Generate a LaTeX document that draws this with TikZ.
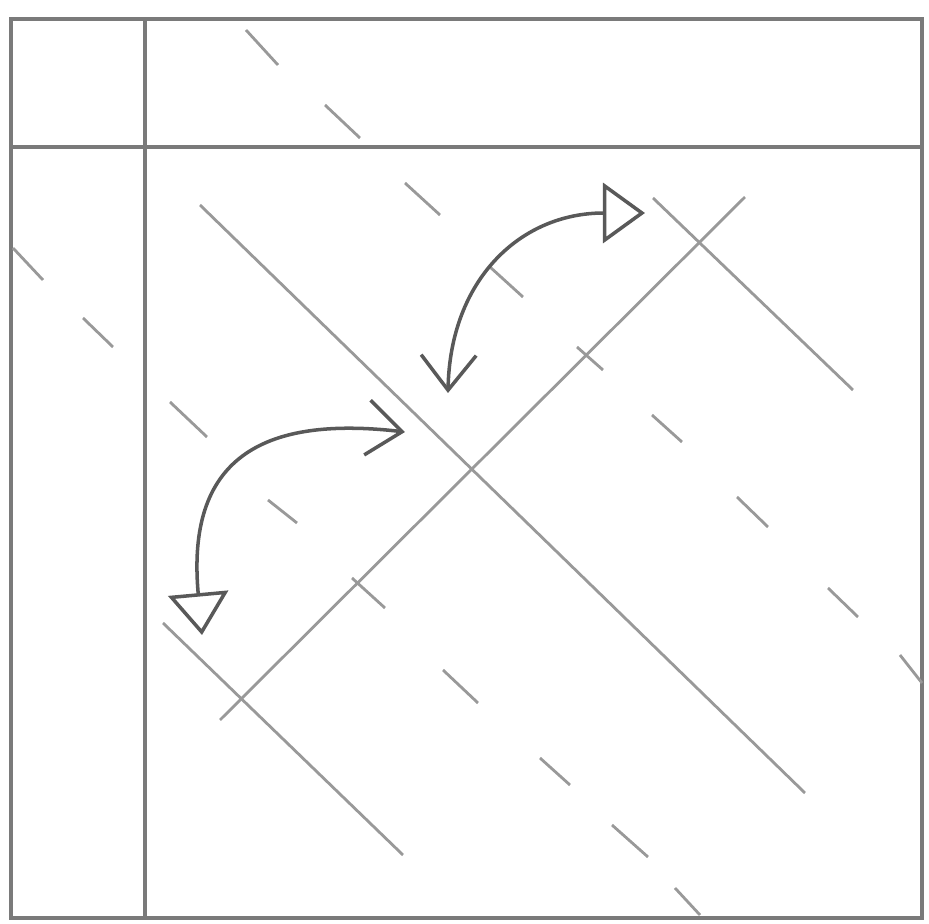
\documentclass[tikz,border=0pt]{standalone}
\usetikzlibrary{arrows.meta}
\begin{document}
\begin{tikzpicture}[x=0.01cm, y=-0.01cm,
    frame/.style={draw=black!52, line width=1pt},
    crease/.style={draw=black!40, line width=0.8pt},
    turn/.style={draw=black!65, line width=1pt,
      {Triangle[open,width=0.6cm,length=0.42cm]}-{Straight Barb[width=0.55cm,length=0.35cm]}}]
            \useasboundingbox (0,0) rectangle (929,924);
            % sheet
            \draw[frame] (11,19) rectangle (922,918);
            \draw[frame] (11,147) -- (922,147);
            \draw[frame] (145,19) -- (145,918);
            % creases
            \draw[crease] (200,205) -- (805,793);
            \draw[crease] (163,623) -- (403,855);
            \draw[crease] (653,198) -- (853,390);
            \draw[crease] (220,720) -- (745,197);
            % dashed creases, dash by dash
            \foreach \xa/\ya/\xb/\yb in {246/30/278/65, 325/105/360/138, 405/183/440/215,
                490/267/523/297, 577/347/603/370, 652/415/682/442, 737/497/768/527,
                828/588/858/617, 900/655/922/683}
              \draw[crease] (\xa,\ya) -- (\xb,\yb);
            \foreach \xa/\ya/\xb/\yb in {13/248/43/280, 83/318/113/347, 170/402/207/437,
                268/500/297/523, 352/578/385/608, 443/670/478/703, 540/758/570/785,
                612/825/648/857, 675/888/700/915}
              \draw[crease] (\xa,\ya) -- (\xb,\yb);
            % turning arrows
            \coordinate (upTip) at (645,213);
            \coordinate (upFoot) at (448,393);
            \coordinate (lowTip) at (202,635);
            \coordinate (lowFoot) at (405,432);
            \draw[turn] (upTip) .. controls (520,213) and (450,280) .. (upFoot);
            \draw[turn] (lowTip) .. controls (186,460) and (260,415) .. (lowFoot);
        \end{tikzpicture}
\end{document}
